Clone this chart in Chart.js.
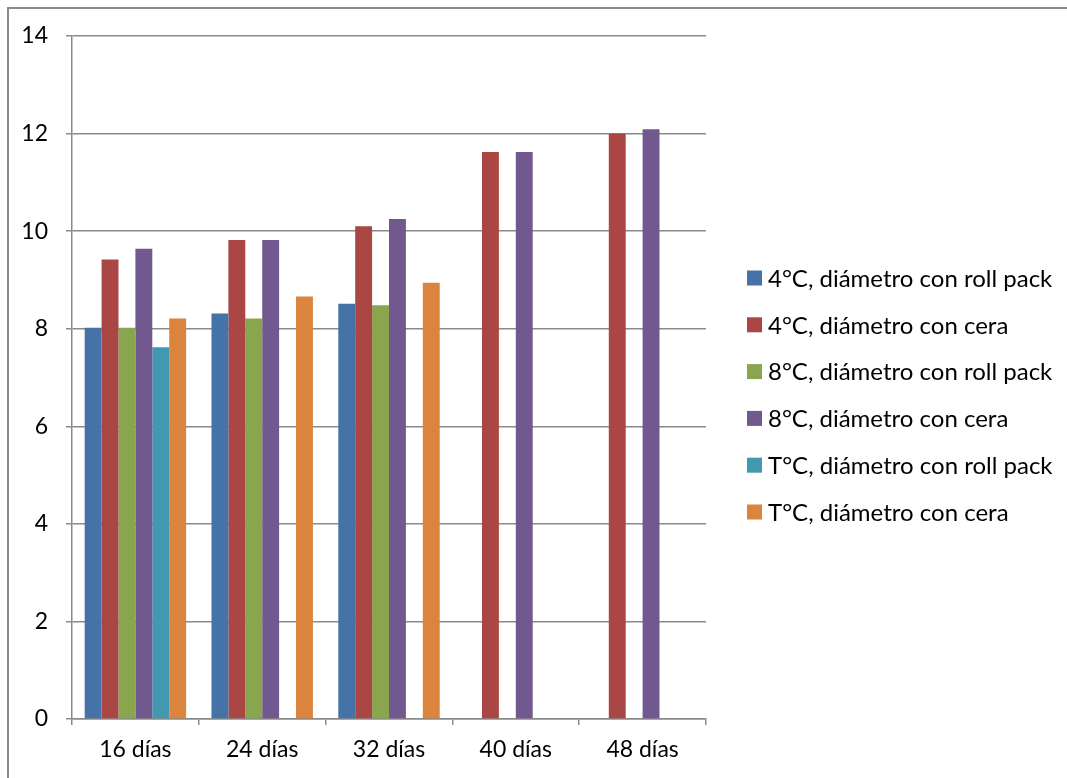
<!DOCTYPE html>
<html>
<head>
<meta charset="utf-8">
<script src="https://cdn.jsdelivr.net/npm/chart.js@4.4.1/dist/chart.umd.min.js"></script>
<style>
  html, body { margin: 0; padding: 0; background: #ffffff; }
  #wrap { width: 1067px; height: 778px; position: relative; }
</style>
</head>
<body>
<div id="wrap"><canvas id="chart" width="1067" height="778"></canvas></div>
<script>
// Storage days
const categories = ['16 días', '24 días', '32 días', '40 días', '48 días'];

// Diameter per treatment
const d4RollPack = [8.02, 8.31, 8.51, null, null];
const d4Cera     = [9.42, 9.82, 10.10, 11.62, 12.00];
const d8RollPack = [8.02, 8.21, 8.48, null, null];
const d8Cera     = [9.64, 9.82, 10.25, 11.62, 12.09];
const dTRollPack = [7.62, null, null, null, null];
const dTCera     = [8.21, 8.66, 8.94, null, null];

const seriesLabels = [
  '4°C, diámetro con roll pack',
  '4°C, diámetro con cera',
  '8°C, diámetro con roll pack',
  '8°C, diámetro con cera',
  'T°C, diámetro con roll pack',
  'T°C, diámetro con cera'
];
const seriesColors = ['#4572A7', '#AA4643', '#89A54E', '#71588F', '#4198AF', '#DB843D'];

const yTicks = { min: 0, max: 14, step: 2 };

const FONT = 'Lato, "Open Sans", sans-serif';
const AXIS_GRAY = '#8a8a8a';

// Outer frame line (top and left edges)
const framePlugin = {
  id: 'frame',
  beforeDraw(chart) {
    const ctx = chart.ctx;
    ctx.save();
    ctx.fillStyle = '#ffffff';
    ctx.fillRect(0, 0, chart.width, chart.height);
    ctx.strokeStyle = AXIS_GRAY;
    ctx.lineWidth = 2;
    ctx.beginPath();
    ctx.moveTo(8, chart.height);
    ctx.lineTo(8, 8);
    ctx.lineTo(chart.width, 8);
    ctx.stroke();
    ctx.restore();
  }
};

// Legend list to the right of the plot
const sideLegend = {
  id: 'sideLegend',
  afterDraw(chart) {
    const ctx = chart.ctx;
    const area = chart.chartArea;
    const boxX = area.right + 41;
    const firstY = 278;
    const rowGap = 46.8;
    ctx.save();
    ctx.font = '24px ' + FONT;
    ctx.textBaseline = 'middle';
    ctx.textAlign = 'left';
    chart.data.datasets.forEach((ds, i) => {
      const cy = firstY + i * rowGap;
      ctx.fillStyle = ds.backgroundColor;
      ctx.fillRect(boxX, cy - 7.5, 15, 15);
      ctx.fillStyle = '#000000';
      ctx.fillText(ds.label, boxX + 21, cy + 1);
    });
    ctx.restore();
  }
};

const seriesData = [d4RollPack, d4Cera, d8RollPack, d8Cera, dTRollPack, dTCera];

new Chart(document.getElementById('chart'), {
  type: 'bar',
  data: {
    labels: categories,
    datasets: seriesData.map((vals, i) => ({
      label: seriesLabels[i],
      data: vals,
      backgroundColor: seriesColors[i],
      borderWidth: 0,
      categoryPercentage: 0.8,
      barPercentage: 1.0
    }))
  },
  options: {
    responsive: false,
    animation: false,
    layout: { padding: { top: 36, right: 361, bottom: 0, left: 0 } },
    plugins: {
      legend: { display: false },
      tooltip: { enabled: false }
    },
    scales: {
      x: {
        grid: {
          display: true,
          drawOnChartArea: false,
          drawTicks: true,
          tickLength: 6,
          color: AXIS_GRAY,
          lineWidth: 1.5,
          offset: true
        },
        border: { display: true, color: AXIS_GRAY, width: 1.5 },
        ticks: {
          color: '#000000',
          font: { family: FONT, size: 23 },
          padding: 11,
          maxRotation: 0
        },
        afterFit(scale) { scale.height = 59; }
      },
      y: {
        min: yTicks.min,
        max: yTicks.max,
        grid: {
          color: AXIS_GRAY,
          lineWidth: 1.5,
          drawTicks: true,
          tickLength: 6
        },
        border: { display: true, color: AXIS_GRAY, width: 1.5 },
        ticks: {
          stepSize: yTicks.step,
          color: '#000000',
          font: { family: FONT, size: 23 },
          padding: 18
        },
        afterFit(scale) { scale.width = 72; }
      }
    }
  },
  plugins: [framePlugin, sideLegend]
});
</script>
</body>
</html>
